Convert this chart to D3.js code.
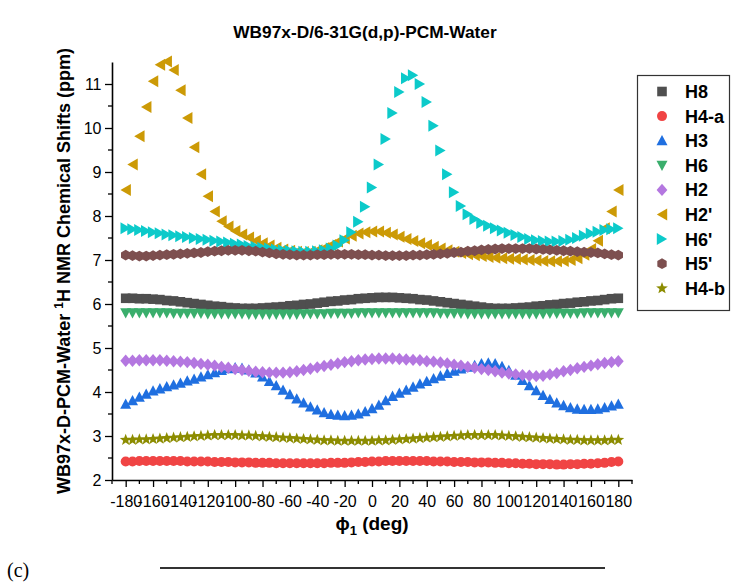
<!DOCTYPE html>
<html><head><meta charset="utf-8">
<script src="https://cdn.jsdelivr.net/npm/d3@7"></script>
<style>
body{margin:0;background:#fff;}
svg{display:block;font-family:"Liberation Sans",Arial,sans-serif;}
</style></head>
<body><svg id="chart" width="731" height="582"></svg>
<script>
const phi = [-180,-175,-170,-165,-160,-155,-150,-145,-140,-135,
 -130,-125,-120,-115,-110,-105,-100,-95,-90,-85,
 -80,-75,-70,-65,-60,-55,-50,-45,-40,-35,
 -30,-25,-20,-15,-10,-5,0,5,10,15,
 20,25,30,35,40,45,50,55,60,65,
 70,75,80,85,90,95,100,105,110,115,
 120,125,130,135,140,145,150,155,160,165,
 170,175,180];

const H8 = [6.13,6.13,6.12,6.12,6.11,6.10,6.08,6.07,6.05,6.03,
 6.01,5.99,5.97,5.95,5.94,5.92,5.91,5.90,5.90,5.90,
 5.91,5.92,5.93,5.94,5.96,5.97,5.99,6.00,6.02,6.04,
 6.06,6.07,6.09,6.10,6.12,6.13,6.14,6.15,6.15,6.15,
 6.14,6.13,6.12,6.10,6.09,6.07,6.05,6.03,6.01,5.99,
 5.97,5.95,5.93,5.91,5.90,5.90,5.90,5.91,5.92,5.93,
 5.95,5.96,5.98,5.99,6.01,6.02,6.04,6.05,6.07,6.08,
 6.10,6.12,6.13];
const H4a = [2.42,2.42,2.43,2.43,2.43,2.43,2.43,2.43,2.43,2.42,
 2.42,2.42,2.42,2.41,2.41,2.41,2.40,2.40,2.40,2.39,
 2.39,2.39,2.38,2.38,2.38,2.38,2.38,2.38,2.38,2.38,
 2.39,2.39,2.39,2.40,2.41,2.41,2.42,2.42,2.43,2.43,
 2.43,2.43,2.43,2.43,2.43,2.42,2.42,2.42,2.41,2.41,
 2.41,2.40,2.40,2.40,2.39,2.39,2.38,2.38,2.37,2.37,
 2.36,2.36,2.36,2.35,2.35,2.36,2.36,2.37,2.37,2.38,
 2.39,2.41,2.42];
const H3 = [3.72,3.80,3.88,3.95,4.02,4.07,4.12,4.16,4.20,4.25,
 4.29,4.34,4.39,4.44,4.49,4.53,4.55,4.54,4.50,4.43,
 4.34,4.24,4.14,4.04,3.94,3.84,3.75,3.66,3.59,3.53,
 3.49,3.47,3.46,3.47,3.50,3.55,3.62,3.70,3.80,3.90,
 3.97,4.04,4.11,4.18,4.24,4.30,4.36,4.42,4.47,4.52,
 4.56,4.60,4.64,4.66,4.64,4.58,4.49,4.38,4.26,4.14,
 4.03,3.92,3.83,3.75,3.69,3.64,3.61,3.60,3.60,3.61,
 3.64,3.68,3.72];
const H6 = [5.80,5.80,5.80,5.80,5.80,5.80,5.80,5.79,5.79,5.79,
 5.79,5.79,5.78,5.78,5.78,5.78,5.78,5.78,5.77,5.77,
 5.77,5.77,5.77,5.77,5.77,5.77,5.78,5.78,5.78,5.78,
 5.79,5.79,5.79,5.79,5.80,5.80,5.80,5.80,5.80,5.80,
 5.80,5.80,5.80,5.80,5.80,5.80,5.79,5.79,5.79,5.79,
 5.78,5.78,5.78,5.78,5.78,5.78,5.78,5.78,5.78,5.78,
 5.78,5.78,5.79,5.79,5.79,5.79,5.79,5.80,5.80,5.80,
 5.80,5.80,5.80];
const H2 = [4.71,4.71,4.72,4.72,4.72,4.72,4.71,4.70,4.69,4.68,
 4.66,4.64,4.62,4.60,4.57,4.55,4.52,4.50,4.48,4.46,
 4.45,4.44,4.44,4.44,4.45,4.47,4.50,4.53,4.56,4.59,
 4.62,4.65,4.68,4.70,4.72,4.74,4.75,4.76,4.76,4.76,
 4.75,4.74,4.73,4.72,4.70,4.69,4.67,4.65,4.62,4.60,
 4.57,4.55,4.52,4.50,4.47,4.44,4.42,4.40,4.38,4.37,
 4.36,4.37,4.40,4.43,4.47,4.50,4.54,4.57,4.60,4.63,
 4.66,4.68,4.70];
const H2p = [8.59,9.17,9.81,10.48,11.06,11.44,11.51,11.32,10.86,10.23,
 9.56,8.95,8.45,8.10,7.88,7.76,7.66,7.58,7.51,7.44,
 7.38,7.33,7.28,7.24,7.21,7.19,7.18,7.19,7.22,7.27,
 7.34,7.42,7.49,7.55,7.60,7.63,7.65,7.65,7.62,7.58,
 7.53,7.48,7.43,7.38,7.34,7.30,7.26,7.22,7.19,7.16,
 7.13,7.11,7.09,7.07,7.05,7.04,7.03,7.02,7.01,7.00,
 6.99,6.98,6.97,6.97,6.98,7.00,7.04,7.12,7.25,7.44,
 7.72,8.10,8.59];
const H6p = [7.72,7.70,7.68,7.66,7.63,7.61,7.58,7.56,7.54,7.52,
 7.50,7.48,7.46,7.44,7.42,7.40,7.37,7.35,7.32,7.30,
 7.28,7.26,7.24,7.22,7.21,7.20,7.19,7.19,7.20,7.22,
 7.26,7.33,7.45,7.63,7.87,8.21,8.65,9.17,9.75,10.34,
 10.82,11.13,11.20,11.00,10.59,10.05,9.49,8.95,8.54,8.23,
 8.04,7.93,7.84,7.78,7.72,7.67,7.62,7.57,7.52,7.48,
 7.45,7.43,7.42,7.42,7.43,7.46,7.50,7.55,7.60,7.64,
 7.68,7.70,7.72];
const H5p = [7.11,7.10,7.09,7.09,7.10,7.11,7.12,7.13,7.14,7.15,
 7.16,7.17,7.19,7.20,7.21,7.22,7.22,7.22,7.21,7.20,
 7.18,7.16,7.14,7.13,7.12,7.11,7.11,7.11,7.12,7.12,
 7.13,7.13,7.13,7.13,7.12,7.12,7.11,7.11,7.10,7.10,
 7.10,7.10,7.11,7.11,7.12,7.13,7.14,7.15,7.17,7.18,
 7.20,7.21,7.23,7.24,7.25,7.26,7.26,7.26,7.26,7.26,
 7.25,7.24,7.23,7.22,7.21,7.20,7.19,7.18,7.17,7.16,
 7.14,7.12,7.11];
const H4b = [2.91,2.91,2.92,2.92,2.93,2.94,2.95,2.96,2.97,2.98,
 2.99,3.00,3.01,3.02,3.02,3.02,3.02,3.01,3.01,3.00,
 2.99,2.98,2.97,2.96,2.95,2.94,2.93,2.92,2.91,2.90,
 2.90,2.89,2.89,2.89,2.89,2.89,2.89,2.90,2.90,2.91,
 2.92,2.93,2.94,2.95,2.96,2.97,2.98,2.99,3.00,3.01,
 3.02,3.02,3.02,3.02,3.02,3.01,3.00,2.99,2.98,2.97,
 2.96,2.95,2.94,2.93,2.92,2.91,2.91,2.90,2.90,2.90,
 2.90,2.91,2.91];

const seriesNames = ["H8","H4-a","H3","H6","H2","H2'","H6'","H5'","H4-b"];
const seriesValues = [H8,H4a,H3,H6,H2,H2p,H6p,H5p,H4b];
const seriesColors = ["#4f4f4f","#f04444","#1f6fe0","#3aae6c","#b477e0","#cc9a06","#0ccaca","#7d4f4f","#8c8c00"];
const seriesShapes = ["square","circle","triUp","triDown","diamond","triLeft","triRight","hexagon","star"];

const xTicks = [-180,-160,-140,-120,-100,-80,-60,-40,-20,0,20,40,60,80,100,120,140,160,180];
const yTicks = [2,3,4,5,6,7,8,9,10,11];

function shapePath(s){
  switch(s){
    case "square": return "M-4.8,-4.8H4.8V4.8H-4.8Z";
    case "circle": return d3.symbol(d3.symbolCircle, Math.PI*5*5)();
    case "triUp": return "M0,-5.8L5.5,4.5L-5.5,4.5Z";
    case "triDown": return "M0,5.8L5.5,-4.5L-5.5,-4.5Z";
    case "diamond": return "M0,-6.2L5.4,0L0,6.2L-5.4,0Z";
    case "triLeft": return "M-5.2,0L5.2,-6L5.2,6Z";
    case "triRight": return "M5.2,0L-5.2,-6L-5.2,6Z";
    case "hexagon": {
      const r=5.4; let p="";
      for(let i=0;i<6;i++){const a=Math.PI/3*i+Math.PI/6; p+=(i?"L":"M")+(r*Math.cos(a)).toFixed(2)+","+(r*Math.sin(a)).toFixed(2);}
      return p+"Z";
    }
    case "star": {
      const ro=6.2, ri=2.6; let p="";
      for(let i=0;i<10;i++){const r=i%2?ri:ro; const a=-Math.PI/2+Math.PI/5*i; p+=(i?"L":"M")+(r*Math.cos(a)).toFixed(2)+","+(r*Math.sin(a)).toFixed(2);}
      return p+"Z";
    }
  }
}

const svg = d3.select("#chart");
const x = d3.scaleLinear().domain([-190,190]).range([112,632]);
const y = d3.scaleLinear().domain([2,11.5]).range([480,62]);

// series
seriesValues.forEach((vals,i)=>{
  const path = shapePath(seriesShapes[i]);
  svg.append("g").selectAll("path").data(vals).join("path")
    .attr("d", path)
    .attr("transform",(d,j)=>`translate(${x(phi[j])},${y(d)})`)
    .attr("fill", seriesColors[i]);
});

// axes
const xMinor = d3.range(-190,191,10).filter(v=>!xTicks.includes(v));
const yMinor = d3.range(2.5,11.5,1);
const xAxis = svg.append("g").attr("transform","translate(0,480)")
  .call(d3.axisBottom(x).tickValues(xTicks).tickFormat(d=>String(d)).tickSize(7).tickSizeOuter(0).tickPadding(9));
xAxis.append("g").selectAll("line").data(xMinor).join("line")
  .attr("x1",d=>x(d)).attr("x2",d=>x(d)).attr("y1",0).attr("y2",4).attr("stroke","#000").attr("stroke-width",1.3);
const yAxis = svg.append("g").attr("transform","translate(112,0)")
  .call(d3.axisLeft(y).tickValues(yTicks).tickFormat(d=>String(d)).tickSize(7).tickSizeOuter(0).tickPadding(3.5));
yAxis.append("g").selectAll("line").data(yMinor).join("line")
  .attr("y1",d=>y(d)).attr("y2",d=>y(d)).attr("x1",0).attr("x2",-4).attr("stroke","#000").attr("stroke-width",1.3);
[xAxis,yAxis].forEach(g=>{
  g.select(".domain").attr("stroke","#000").attr("stroke-width",1.6);
  g.selectAll(".tick line").attr("stroke","#000").attr("stroke-width",1.3);
  g.selectAll(".tick text").attr("font-size",16).attr("fill","#000")
    .attr("font-family","'Liberation Sans',Arial,sans-serif");
});

// title
svg.append("text").attr("x",365).attr("y",38).attr("text-anchor","middle")
  .attr("font-size",17.3).attr("font-weight","bold").text("WB97x-D/6-31G(d,p)-PCM-Water");

// y label
const yl = svg.append("text").attr("transform","translate(69.5,271) rotate(-90)")
  .attr("text-anchor","middle").attr("font-size",18).attr("font-weight","bold");
yl.append("tspan").text("WB97x-D-PCM-Water ");
yl.append("tspan").attr("font-size",12).attr("dy",-7).text("1");
yl.append("tspan").attr("dy",7).text("H NMR Chemical Shifts (ppm)");

// x label
const xl = svg.append("text").attr("x",372).attr("y",530).attr("text-anchor","middle")
  .attr("font-size",19).attr("font-weight","bold");
xl.append("tspan").text("\u03D5");
xl.append("tspan").attr("font-size",13).attr("dy",5).text("1");
xl.append("tspan").attr("dy",-5).text(" (deg)");

// legend
const lg = svg.append("g");
lg.append("rect").attr("x",637.5).attr("y",75.5).attr("width",92).attr("height",235)
  .attr("fill","#fff").attr("stroke","#333").attr("stroke-width",1.2);
seriesNames.forEach((n,i)=>{
  const cy = 91.5 + i*24.6;
  lg.append("path").attr("d",shapePath(seriesShapes[i])).attr("transform",`translate(662,${cy})`).attr("fill",seriesColors[i]);
  lg.append("text").attr("x",685).attr("y",cy+6.5).attr("font-size",18).attr("font-weight","bold").text(n);
});

// caption
svg.append("text").attr("x",7).attr("y",577).attr("font-family","'Liberation Serif','Times New Roman',serif")
  .attr("font-size",20).text("(c)");
svg.append("line").attr("x1",160).attr("x2",605).attr("y1",568).attr("y2",568).attr("stroke","#333").attr("stroke-width",2);
</script></body></html>
